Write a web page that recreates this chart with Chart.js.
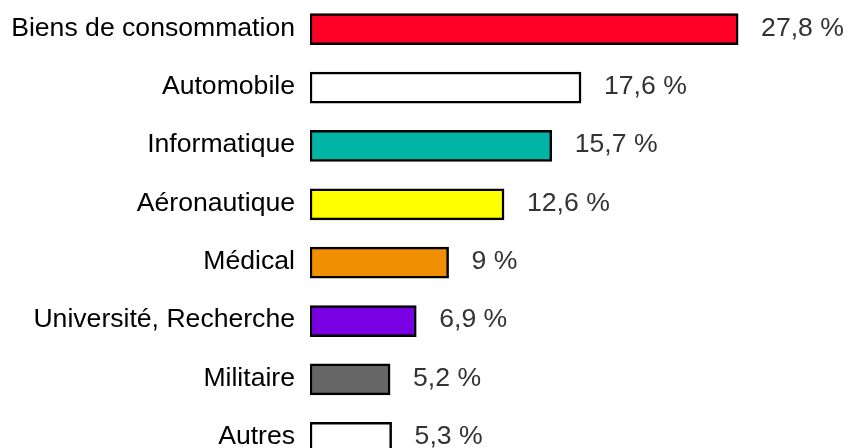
<!DOCTYPE html>
<html lang="fr">
<head>
<meta charset="utf-8">
<title>Secteurs</title>
<script src="https://cdn.jsdelivr.net/npm/chart.js@4/dist/chart.umd.min.js"></script>
<style>
  html, body { margin: 0; padding: 0; background: #fff; overflow: hidden; }
  #wrap { width: 849px; height: 467px; }
</style>
</head>
<body>
<div id="wrap"><canvas id="chart" width="849" height="467"></canvas></div>
<script>
/* Répartition par secteur (%) */
const sectors = [
  'Biens de consommation',
  'Automobile',
  'Informatique',
  'Aéronautique',
  'Médical',
  'Université, Recherche',
  'Militaire',
  'Autres'
];
const shares = [27.8, 17.6, 15.7, 12.6, 9, 6.9, 5.2, 5.3];
const fills = ['#ff0027', '#ffffff', '#00b4a6', '#ffff00', '#f09000', '#7a00e4', '#666666', '#ffffff'];

const FONT = '26.6px "Liberation Sans", Arial, sans-serif';

function fmt(v) {
  return String(v).replace('.', ',') + ' %';
}

const sideLabels = {
  id: 'sideLabels',
  afterDatasetsDraw(chart) {
    const ctx = chart.ctx;
    const meta = chart.getDatasetMeta(0);
    const left = chart.chartArea.left;
    ctx.save();
    ctx.font = FONT;
    ctx.textBaseline = 'middle';
    meta.data.forEach((bar, i) => {
      ctx.fillStyle = '#000';
      ctx.textAlign = 'right';
      ctx.fillText(sectors[i], left - 15, bar.y - 1);
      ctx.fillStyle = '#333';
      ctx.textAlign = 'left';
      ctx.fillText(fmt(shares[i]), bar.x + 23, bar.y - 1);
    });
    ctx.restore();
  }
};

new Chart(document.getElementById('chart').getContext('2d'), {
  type: 'bar',
  data: {
    labels: sectors,
    datasets: [
      {
        data: shares,
        backgroundColor: fills,
        borderColor: '#000',
        borderWidth: 2.5,
        borderSkipped: false,
        barThickness: 31
      }
    ]
  },
  options: {
    indexAxis: 'y',
    responsive: false,
    animation: false,
    layout: { padding: { left: 310, right: 0, top: 0, bottom: 0 } },
    plugins: { legend: { display: false }, tooltip: { enabled: false } },
    scales: {
      x: { display: false, min: 0, max: 35 },
      y: { display: false }
    }
  },
  plugins: [sideLabels]
});
</script>
</body>
</html>
